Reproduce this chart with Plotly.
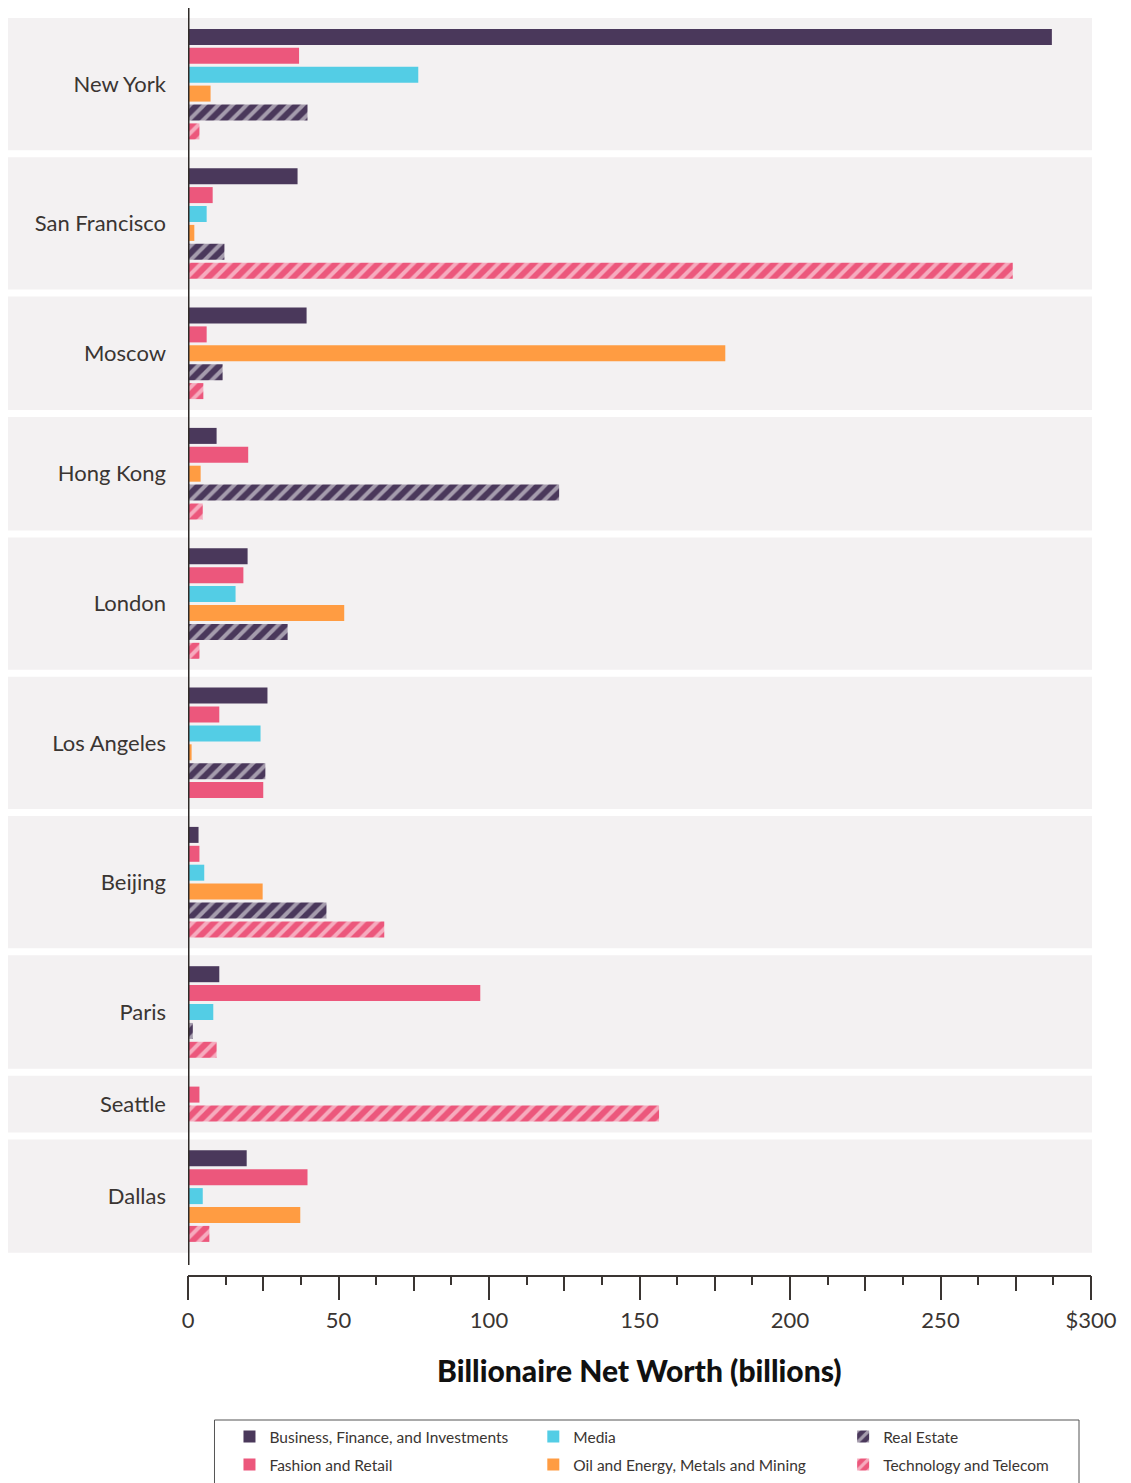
import plotly.graph_objects as go

# ---------------- data ----------------
cities = ["New York", "San Francisco", "Moscow", "Hong Kong", "London",
          "Los Angeles", "Beijing", "Paris", "Seattle", "Dallas"]

business    = [287.0, 36.4, 39.4, 9.5, 19.8, 26.4, 3.5, 10.4, None, 19.5]
fashion     = [36.9, 8.2, 6.2, 20.0, 18.4, 10.4, 3.8, 97.1, 3.8, 39.7]
media       = [76.5, 6.2, None, None, 15.8, 24.1, 5.4, 8.4, None, 4.9]
oil         = [7.5, 2.1, 178.5, 4.2, 51.9, 1.2, 24.8, None, None, 37.3]
real_estate = [39.7, 12.1, 11.5, 123.3, 33.1, 25.7, 46.0, 1.6, None, None]
tech        = [3.8, 274.0, 5.1, 4.9, 3.8, 25.0, 65.2, 9.5, 156.5, 7.1]

series_names = ["Business, Finance, and Investments", "Fashion and Retail", "Media",
                "Oil and Energy, Metals and Mining", "Real Estate", "Technology and Telecom"]
series_values = [business, fashion, media, oil, real_estate, tech]

x_tick_vals = [0, 50, 100, 150, 200, 250, 300]
x_tick_text = ["0", "50", "100", "150", "200", "250", "$300"]

# ---------------- style ----------------
colors = ["#4a385b", "#ec577c", "#53cde5", "#ff9c42", "#4a385b", "#ec577c"]
hatched = [False, False, False, False, True, True]
band_color = "#f3f1f2"
ink = "#3a3532"
FONT = "Lato"

# page offset introduced by the default body margin of the html page
OFF = 8
W, H = 1131 - OFF, 1483 - OFF

# target positions in page pixels
P_LEFT, P_RIGHT = 187.5, 1091
P_TOP, P_BOTTOM = 8, 1275
plot_w = P_RIGHT - P_LEFT
plot_h = P_BOTTOM - P_TOP


def px_x(page_x):
    return (page_x - P_LEFT) / plot_w


def px_y(page_y):
    return (P_BOTTOM - page_y) / plot_h


band_top_px = 18
px_per_slot = 18.9
gap = 7 / px_per_slot
bar_w = 16 / px_per_slot

# legend placement (page px): (legend x, legend top)
legend_cols = [229, 229, 533, 533, 843, 843]
legend_tops = [1420, 1448, 1420, 1448, 1420, 1448]

# ---------------- layout of grouped rows (computed from data) ----------------
positions = [[None] * len(cities) for _ in series_values]
bands = []
centers = []
cursor = 0.0
for ci, city in enumerate(cities):
    present = [si for si, vals in enumerate(series_values) if vals[ci] is not None]
    top = cursor
    for k, si in enumerate(present):
        positions[si][ci] = top + 0.5 + k + 0.5
    bottom = top + len(present) + 1
    bands.append((top, bottom))
    centers.append((top + bottom) / 2)
    cursor = bottom + gap

y_top = -(band_top_px - P_TOP) / px_per_slot
y_bottom = y_top + plot_h / px_per_slot

fig = go.Figure()

legend_ids = ["legend", "legend2", "legend3", "legend4", "legend5", "legend6"]

for si, name in enumerate(series_names):
    xs, ys, shapes_ = [], [], []
    for ci in range(len(cities)):
        v = series_values[si][ci]
        if v is None:
            continue
        xs.append(v)
        ys.append(positions[si][ci])
        # Los Angeles technology bar is rendered solid in the source
        if hatched[si] and not (cities[ci] == "Los Angeles" and si == 5):
            shapes_.append("/")
        else:
            shapes_.append("")
    marker = dict(color=colors[si], line=dict(width=0))
    if hatched[si]:
        marker["pattern"] = dict(shape=shapes_, fillmode="overlay", fgcolor="white",
                                 bgcolor=colors[si], size=10, solidity=0.4)
    fig.add_trace(go.Bar(
        x=xs, y=ys, orientation="h", width=bar_w, name=name, marker=marker,
        legend=legend_ids[si],
        hovertemplate="%{x}<extra>" + name + "</extra>",
    ))

# dummy trace for the secondary tick axis (25-unit ticks)
fig.add_trace(go.Scatter(x=[None], y=[None], xaxis="x2", showlegend=False, hoverinfo="skip"))

shapes = []
for (t, b) in bands:
    shapes.append(dict(type="rect", xref="paper", yref="y",
                       x0=px_x(5), x1=px_x(1092),
                       y0=t, y1=b, fillcolor=band_color, line=dict(width=0), layer="below"))
# vertical axis line
shapes.append(dict(type="line", xref="x", yref="paper", x0=0, x1=0,
                   y0=px_y(1265), y1=1.0,
                   line=dict(color="#2f2b28", width=3), layer="above"))
# legend border
shapes.append(dict(type="rect", xref="paper", yref="paper",
                   x0=px_x(214), x1=px_x(1079),
                   y0=px_y(1500), y1=px_y(1420),
                   line=dict(color="#555555", width=1), fillcolor="rgba(0,0,0,0)"))

legends = {}
for si, lid in enumerate(legend_ids):
    legends[lid] = dict(orientation="v", x=px_x(legend_cols[si]), xanchor="left",
                        y=px_y(legend_tops[si]), yanchor="top", itemwidth=30,
                        font=dict(size=15.5, color=ink, family=FONT),
                        bgcolor="rgba(0,0,0,0)", borderwidth=0)

fig.update_layout(
    width=W, height=H,
    margin=dict(l=P_LEFT - OFF, r=W - (P_RIGHT - OFF), t=P_TOP - OFF, b=H - (P_BOTTOM - OFF),
                autoexpand=False),
    paper_bgcolor="white", plot_bgcolor="rgba(0,0,0,0)",
    font=dict(family=FONT, color=ink),
    barmode="overlay",
    shapes=shapes,
    xaxis=dict(range=[0, 300], tickvals=x_tick_vals, ticktext=x_tick_text,
               ticks="outside", ticklen=23, tickwidth=1.5, tickcolor=ink,
               showline=True, linecolor=ink, linewidth=1.5,
               showgrid=False, zeroline=False, ticklabelstandoff=2,
               tickfont=dict(size=22, color=ink, family=FONT),
               minor=dict(dtick=12.5, tick0=0, ticks="outside", ticklen=8,
                          tickwidth=1.5, tickcolor=ink, showgrid=False),
               fixedrange=True),
    xaxis2=dict(overlaying="x", anchor="y", side="bottom", range=[0, 300],
                tickmode="linear", tick0=0, dtick=25, ticks="outside", ticklen=15,
                tickwidth=1.5, tickcolor=ink, showticklabels=False,
                showline=False, showgrid=False, zeroline=False),
    yaxis=dict(range=[y_bottom, y_top], tickvals=centers, ticktext=cities,
               ticks="", showline=False, showgrid=False, zeroline=False,
               ticklabelstandoff=21,
               tickfont=dict(size=22, color=ink, family=FONT),
               fixedrange=True),
    annotations=[dict(text="Billionaire Net Worth (billions)", xref="paper", yref="paper",
                      x=0.5, y=px_y(1370), xanchor="center", yanchor="middle",
                      showarrow=False,
                      font=dict(size=30, color="#111111", family=FONT, weight=900))],
    showlegend=True,
    **legends,
)

fig.write_html("out.html")
